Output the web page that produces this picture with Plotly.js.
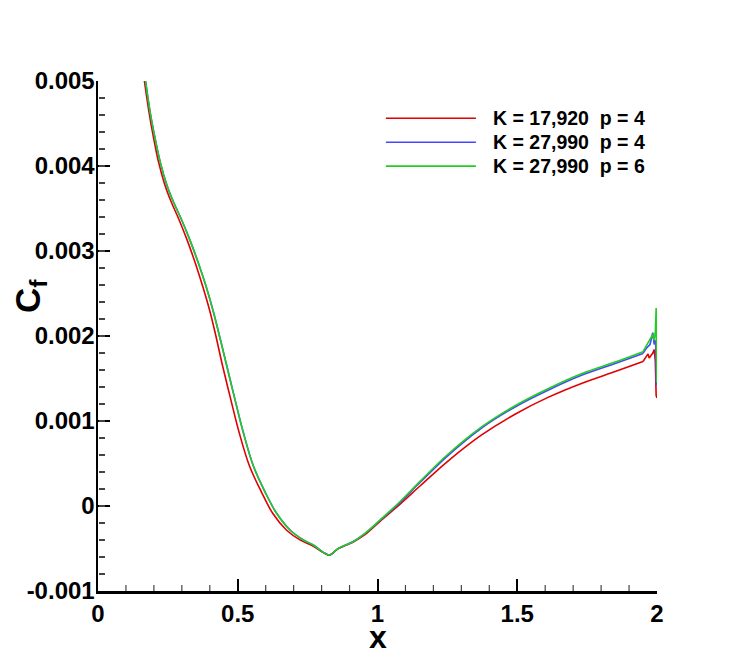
<!DOCTYPE html>
<html>
<head>
<meta charset="utf-8">
<script src="https://cdn.plot.ly/plotly-3.0.1.min.js"></script>
<style>html,body{margin:0;padding:0;background:#fff;}#chart{width:747px;height:665px;}</style>
</head>
<body>
<div id="chart"></div>
<script>
// ---- data (Cf values) ----
const seriesNames = ["K = 17,920\u00a0\u00a0p = 4", "K = 27,990\u00a0\u00a0p = 4", "K = 27,990\u00a0\u00a0p = 6"];

const xRed = [0.166,0.182,0.199,0.216,0.239,0.261,0.290,0.319,0.348,0.377,0.401,0.423,0.445,0.475,0.505,0.542,0.584,0.625,0.674,0.724,0.764,0.810,0.828,0.860,0.912,0.955,1.009,1.080,1.152,1.249,1.370,1.492,1.610,1.732,1.853,1.950,1.968,1.972,1.985,1.990,1.994,1.997,2.000];
const yRed = [0.005000,0.004644,0.004329,0.004055,0.003780,0.003585,0.003368,0.003128,0.002858,0.002558,0.002282,0.001983,0.001659,0.001254,0.000864,0.000470,0.000170,-0.000086,-0.000282,-0.000402,-0.000462,-0.000556,-0.000578,-0.000502,-0.000426,-0.000338,-0.000180,0.000020,0.000235,0.000520,0.000830,0.001080,0.001278,0.001445,0.001585,0.001700,0.001790,0.001740,0.001800,0.001840,0.001700,0.001300,0.001270];

const xBlue = [0.170,0.186,0.204,0.222,0.246,0.269,0.299,0.329,0.359,0.389,0.413,0.436,0.460,0.490,0.520,0.556,0.597,0.639,0.687,0.735,0.770,0.812,0.830,0.860,0.912,0.955,1.009,1.080,1.152,1.249,1.370,1.492,1.610,1.732,1.853,1.950,1.963,1.975,1.985,1.990,1.995,1.998,2.000];
const yBlue = [0.005000,0.004644,0.004329,0.004055,0.003780,0.003585,0.003368,0.003128,0.002858,0.002558,0.002282,0.001983,0.001659,0.001254,0.000864,0.000470,0.000170,-0.000086,-0.000282,-0.000400,-0.000459,-0.000556,-0.000576,-0.000498,-0.000421,-0.000325,-0.000170,0.000040,0.000276,0.000585,0.000912,0.001165,0.001362,0.001540,0.001680,0.001795,0.001860,0.001900,0.002040,0.001900,0.001950,0.001420,0.001500];

const xGreen = [0.170,0.186,0.204,0.222,0.246,0.269,0.299,0.329,0.359,0.389,0.413,0.436,0.460,0.490,0.520,0.556,0.597,0.639,0.687,0.735,0.770,0.812,0.830,0.860,0.912,0.955,1.009,1.080,1.152,1.249,1.370,1.492,1.610,1.732,1.853,1.950,1.975,1.985,1.990,1.994,1.997,1.999,2.000];
const yGreen = [0.005000,0.004644,0.004329,0.004055,0.003780,0.003585,0.003368,0.003128,0.002858,0.002558,0.002282,0.001983,0.001659,0.001254,0.000864,0.000470,0.000170,-0.000086,-0.000282,-0.000400,-0.000459,-0.000556,-0.000576,-0.000498,-0.000420,-0.000322,-0.000165,0.000050,0.000290,0.000600,0.000925,0.001180,0.001380,0.001558,0.001696,0.001815,0.001970,0.002020,0.001950,0.002050,0.002330,0.001450,0.001600];

const seriesColors = ["#e00000", "#4646ff", "#22cc22"];

const xTickVals = [0, 0.5, 1, 1.5, 2];
const yTickVals = [-0.001, 0, 0.001, 0.002, 0.003, 0.004, 0.005];
const yTickText = ["-0.001", "0", "0.001", "0.002", "0.003", "0.004", "0.005"];
const xMinorStep = 0.1;
const yMinorStep = 0.0002;
const xRange = [0, 2];
const yRange = [-0.001, 0.005];

const FONT = "Liberation Sans, Arial, Helvetica, sans-serif";
const xs = [xRed, xBlue, xGreen];
const ys = [yRed, yBlue, yGreen];
const tailStart = 1.95; // trailing-edge oscillations drawn with straight segments

const traces = [];
// empty trace so the y minor-tick overlay axis exists
traces.push({x: [], y: [], xaxis: "x", yaxis: "y2", type: "scatter", mode: "lines", showlegend: false, hoverinfo: "skip"});
xs.forEach((x, i) => {
  const y = ys[i];
  const k = x.findIndex(v => v >= tailStart);
  traces.push({
    x: x.slice(0, k + 1), y: y.slice(0, k + 1), type: "scatter", mode: "lines",
    name: seriesNames[i], line: {color: seriesColors[i], width: 1.6, shape: "spline", smoothing: 1},
    showlegend: false, hoverinfo: "skip"
  });
  traces.push({
    x: x.slice(k), y: y.slice(k), type: "scatter", mode: "lines",
    name: seriesNames[i], line: {color: seriesColors[i], width: 1.6},
    showlegend: false, hoverinfo: "skip"
  });
});

// manual legend (long line samples as in the reference)
const legRowsY = [0.927, 0.880, 0.833];
const shapes = legRowsY.map((yy, i) => ({
  type: "line", xref: "paper", yref: "paper", x0: 0.515, x1: 0.676, y0: yy, y1: yy,
  line: {color: seriesColors[i], width: 1.6}
}));
// x minor ticks (inside, 6 px) at every xMinorStep that is not a major tick
const nMinor = Math.round((xRange[1] - xRange[0]) / xMinorStep);
for (let j = 1; j < nMinor; j++) {
  const v = +(xRange[0] + j * xMinorStep).toFixed(6);
  if (xTickVals.some(t => Math.abs(t - v) < 1e-9)) continue;
  shapes.push({type: "line", xref: "x", yref: "paper", ysizemode: "pixel", yanchor: 0,
    x0: v, x1: v, y0: 0, y1: 6, line: {color: "#444", width: 1.2}});
}

const annotations = legRowsY.map((yy, i) => ({
  xref: "paper", yref: "paper", x: 0.703, y: yy, xanchor: "left", yanchor: "middle",
  text: seriesNames[i], showarrow: false,
  font: {family: FONT, size: 19.5, color: "#000", weight: 700}
}));
annotations.push({
  xref: "paper", yref: "paper", x: -0.122, y: 0.578, xanchor: "center", yanchor: "middle",
  textangle: -90, showarrow: false, text: "C<sub>f</sub>",
  font: {family: FONT, size: 35, color: "#000", weight: 700}
});
annotations.push({
  xref: "paper", yref: "paper", x: 0.5, y: -0.09, xanchor: "center", yanchor: "middle",
  showarrow: false, text: "x", height: 24, valign: "middle",
  font: {family: FONT, size: 32, color: "#000", weight: 700}
});

const axisCommon = {
  showline: true, linecolor: "#000", linewidth: 2.5, mirror: false,
  showgrid: false, zeroline: false,
  ticks: "inside", ticklen: 12, tickwidth: 2, tickcolor: "#000",
  tickfont: {family: FONT, size: 24, color: "#000", weight: 700}
};
const minorStyle = {ticks: "inside", ticklen: 6, tickwidth: 1.2, tickcolor: "#444", showgrid: false};

const layout = {
  width: 747, height: 665,
  margin: {l: 98, r: 90, t: 81, b: 74, pad: 0},
  paper_bgcolor: "#fff", plot_bgcolor: "#fff",
  showlegend: false,
  xaxis: Object.assign({}, axisCommon, {
    range: xRange, tickmode: "linear", tick0: xTickVals[0], dtick: xTickVals[1] - xTickVals[0]
  }),
  yaxis: Object.assign({}, axisCommon, {range: yRange, tickmode: "array", tickvals: yTickVals, ticktext: yTickText, ticklabelstandoff: -4}),
  yaxis2: Object.assign({}, minorStyle, {
    range: yRange, tickmode: "linear", tick0: 0, dtick: yMinorStep, overlaying: "y", anchor: "free", position: 0, side: "left",
    showline: false, zeroline: false, showticklabels: false
  }),
  shapes: shapes,
  annotations: annotations
};

Plotly.newPlot("chart", traces, layout, {staticPlot: true, displayModeBar: false});
</script>
</body>
</html>
